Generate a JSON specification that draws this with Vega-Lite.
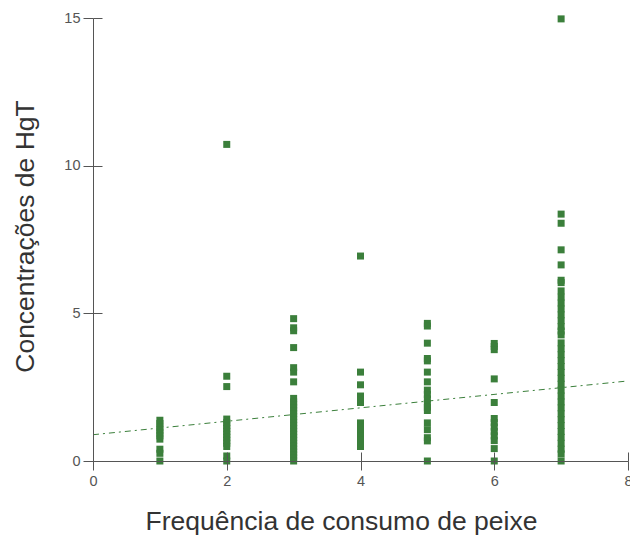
{
  "$schema": "https://vega.github.io/schema/vega-lite/v6.json",
  "width": 535,
  "height": 443,
  "autosize": "none",
  "padding": {"left": 93, "top": 18, "right": 2, "bottom": 80},
  "background": "white",
  "config": {"view": {"stroke": null}, "font": "Liberation Sans"},
  "layer": [
    {
      "data": {"values": [
        {"freq": 1, "hgt": 1.38}, {"freq": 1, "hgt": 1.27}, {"freq": 1, "hgt": 1.15}, {"freq": 1, "hgt": 1.05}, {"freq": 1, "hgt": 0.95}, {"freq": 1, "hgt": 0.85}, {"freq": 1, "hgt": 0.74}, {"freq": 1, "hgt": 0.40}, {"freq": 1, "hgt": 0.26}, {"freq": 1, "hgt": 0.0},
        {"freq": 2, "hgt": 10.72}, {"freq": 2, "hgt": 2.87}, {"freq": 2, "hgt": 2.52}, {"freq": 2, "hgt": 1.42}, {"freq": 2, "hgt": 1.3}, {"freq": 2, "hgt": 1.2}, {"freq": 2, "hgt": 1.1}, {"freq": 2, "hgt": 1.0}, {"freq": 2, "hgt": 0.9}, {"freq": 2, "hgt": 0.8}, {"freq": 2, "hgt": 0.7}, {"freq": 2, "hgt": 0.6}, {"freq": 2, "hgt": 0.49}, {"freq": 2, "hgt": 0.17}, {"freq": 2, "hgt": 0.0},
        {"freq": 3, "hgt": 4.82}, {"freq": 3, "hgt": 4.51}, {"freq": 3, "hgt": 4.41}, {"freq": 3, "hgt": 3.84}, {"freq": 3, "hgt": 3.16}, {"freq": 3, "hgt": 3.01}, {"freq": 3, "hgt": 2.68}, {"freq": 3, "hgt": 2.12}, {"freq": 3, "hgt": 2.0}, {"freq": 3, "hgt": 1.9}, {"freq": 3, "hgt": 1.8}, {"freq": 3, "hgt": 1.7}, {"freq": 3, "hgt": 1.6}, {"freq": 3, "hgt": 1.5}, {"freq": 3, "hgt": 1.4}, {"freq": 3, "hgt": 1.3}, {"freq": 3, "hgt": 1.2}, {"freq": 3, "hgt": 1.1}, {"freq": 3, "hgt": 1.0}, {"freq": 3, "hgt": 0.9}, {"freq": 3, "hgt": 0.8}, {"freq": 3, "hgt": 0.7}, {"freq": 3, "hgt": 0.6}, {"freq": 3, "hgt": 0.5}, {"freq": 3, "hgt": 0.4}, {"freq": 3, "hgt": 0.3}, {"freq": 3, "hgt": 0.2}, {"freq": 3, "hgt": 0.1}, {"freq": 3, "hgt": 0.0},
        {"freq": 4, "hgt": 6.94}, {"freq": 4, "hgt": 3.01}, {"freq": 4, "hgt": 2.58}, {"freq": 4, "hgt": 2.2}, {"freq": 4, "hgt": 1.98}, {"freq": 4, "hgt": 1.29}, {"freq": 4, "hgt": 1.15}, {"freq": 4, "hgt": 1.0}, {"freq": 4, "hgt": 0.85}, {"freq": 4, "hgt": 0.7}, {"freq": 4, "hgt": 0.6}, {"freq": 4, "hgt": 0.49},
        {"freq": 5, "hgt": 4.66}, {"freq": 5, "hgt": 4.57}, {"freq": 5, "hgt": 3.99}, {"freq": 5, "hgt": 3.47}, {"freq": 5, "hgt": 3.39}, {"freq": 5, "hgt": 3.01}, {"freq": 5, "hgt": 2.68}, {"freq": 5, "hgt": 2.40}, {"freq": 5, "hgt": 2.25}, {"freq": 5, "hgt": 2.1}, {"freq": 5, "hgt": 1.95}, {"freq": 5, "hgt": 1.82}, {"freq": 5, "hgt": 1.71}, {"freq": 5, "hgt": 1.29}, {"freq": 5, "hgt": 1.06}, {"freq": 5, "hgt": 0.79}, {"freq": 5, "hgt": 0.68}, {"freq": 5, "hgt": 0.0},
        {"freq": 6, "hgt": 3.98}, {"freq": 6, "hgt": 3.88}, {"freq": 6, "hgt": 3.77}, {"freq": 6, "hgt": 2.78}, {"freq": 6, "hgt": 1.98}, {"freq": 6, "hgt": 1.44}, {"freq": 6, "hgt": 1.3}, {"freq": 6, "hgt": 1.15}, {"freq": 6, "hgt": 1.0}, {"freq": 6, "hgt": 0.85}, {"freq": 6, "hgt": 0.69}, {"freq": 6, "hgt": 0.42}, {"freq": 6, "hgt": 0.0},
        {"freq": 7, "hgt": 14.97}, {"freq": 7, "hgt": 8.36}, {"freq": 7, "hgt": 8.05}, {"freq": 7, "hgt": 7.15}, {"freq": 7, "hgt": 6.64}, {"freq": 7, "hgt": 6.12}, {"freq": 7, "hgt": 6.04},
        {"freq": 7, "hgt": 5.76}, {"freq": 7, "hgt": 5.55}, {"freq": 7, "hgt": 5.35}, {"freq": 7, "hgt": 5.15}, {"freq": 7, "hgt": 4.95}, {"freq": 7, "hgt": 4.75}, {"freq": 7, "hgt": 4.55}, {"freq": 7, "hgt": 4.4}, {"freq": 7, "hgt": 4.27},
        {"freq": 7, "hgt": 4.0}, {"freq": 7, "hgt": 3.8}, {"freq": 7, "hgt": 3.6}, {"freq": 7, "hgt": 3.4}, {"freq": 7, "hgt": 3.2}, {"freq": 7, "hgt": 3.0}, {"freq": 7, "hgt": 2.8}, {"freq": 7, "hgt": 2.6}, {"freq": 7, "hgt": 2.4}, {"freq": 7, "hgt": 2.2}, {"freq": 7, "hgt": 2.0}, {"freq": 7, "hgt": 1.8}, {"freq": 7, "hgt": 1.6}, {"freq": 7, "hgt": 1.4}, {"freq": 7, "hgt": 1.2}, {"freq": 7, "hgt": 1.0}, {"freq": 7, "hgt": 0.8}, {"freq": 7, "hgt": 0.6}, {"freq": 7, "hgt": 0.4}, {"freq": 7, "hgt": 0.24}, {"freq": 7, "hgt": 0.0}
      ]},
      "mark": {"type": "square", "size": 49, "filled": true, "opacity": 1, "color": "#3b7f3b"},
      "encoding": {
        "x": {"field": "freq", "type": "quantitative", "scale": {"domain": [0, 8], "nice": false, "zero": false},
          "axis": {"values": [0, 2, 4, 6, 8], "grid": false, "zindex": 1, "tickSize": 9, "tickColor": "#555", "domainColor": "#555", "labelColor": "#555", "labelFontSize": 14.5, "labelPadding": 4, "labelFlush": false,
            "title": "Frequência de consumo de peixe", "titleFontSize": 26.5, "titleFontWeight": "normal", "titleColor": "#333", "titlePadding": 21, "titleX": 248}},
        "y": {"field": "hgt", "type": "quantitative", "scale": {"domain": [0, 15], "nice": false},
          "axis": {"values": [0, 5, 10, 15], "grid": false, "zindex": 1, "tickSize": 10, "tickColor": "#555", "domainColor": "#555", "labelColor": "#555", "labelFontSize": 14.5, "labelPadding": 3, "labelFlush": false,
            "title": "Concentrações de HgT", "titleFontSize": 26.5, "titleFontWeight": "normal", "titleColor": "#333", "titlePadding": 24, "titleY": 218}}
      }
    },
    {
      "data": {"values": [{"freq": 0, "hgt": 0.89}, {"freq": 8, "hgt": 2.71}]},
      "mark": {"type": "line", "color": "#3b7f3b", "strokeWidth": 1, "strokeDash": [6, 4, 2, 4]},
      "encoding": {
        "x": {"field": "freq", "type": "quantitative", "axis": {"orient": "bottom", "offset": -9, "values": [0, 2, 4, 6, 8], "grid": false, "zindex": 1, "tickSize": 9, "tickColor": "#555", "domain": false, "labels": false, "title": null}},
        "y": {"field": "hgt", "type": "quantitative", "axis": {"orient": "left", "offset": -9, "values": [0, 5, 10, 15], "grid": false, "zindex": 1, "tickSize": 9, "tickColor": "#555", "domain": false, "labels": false, "title": null}}
      }
    }
  ],
  "resolve": {"axis": {"x": "independent", "y": "independent"}}
}
